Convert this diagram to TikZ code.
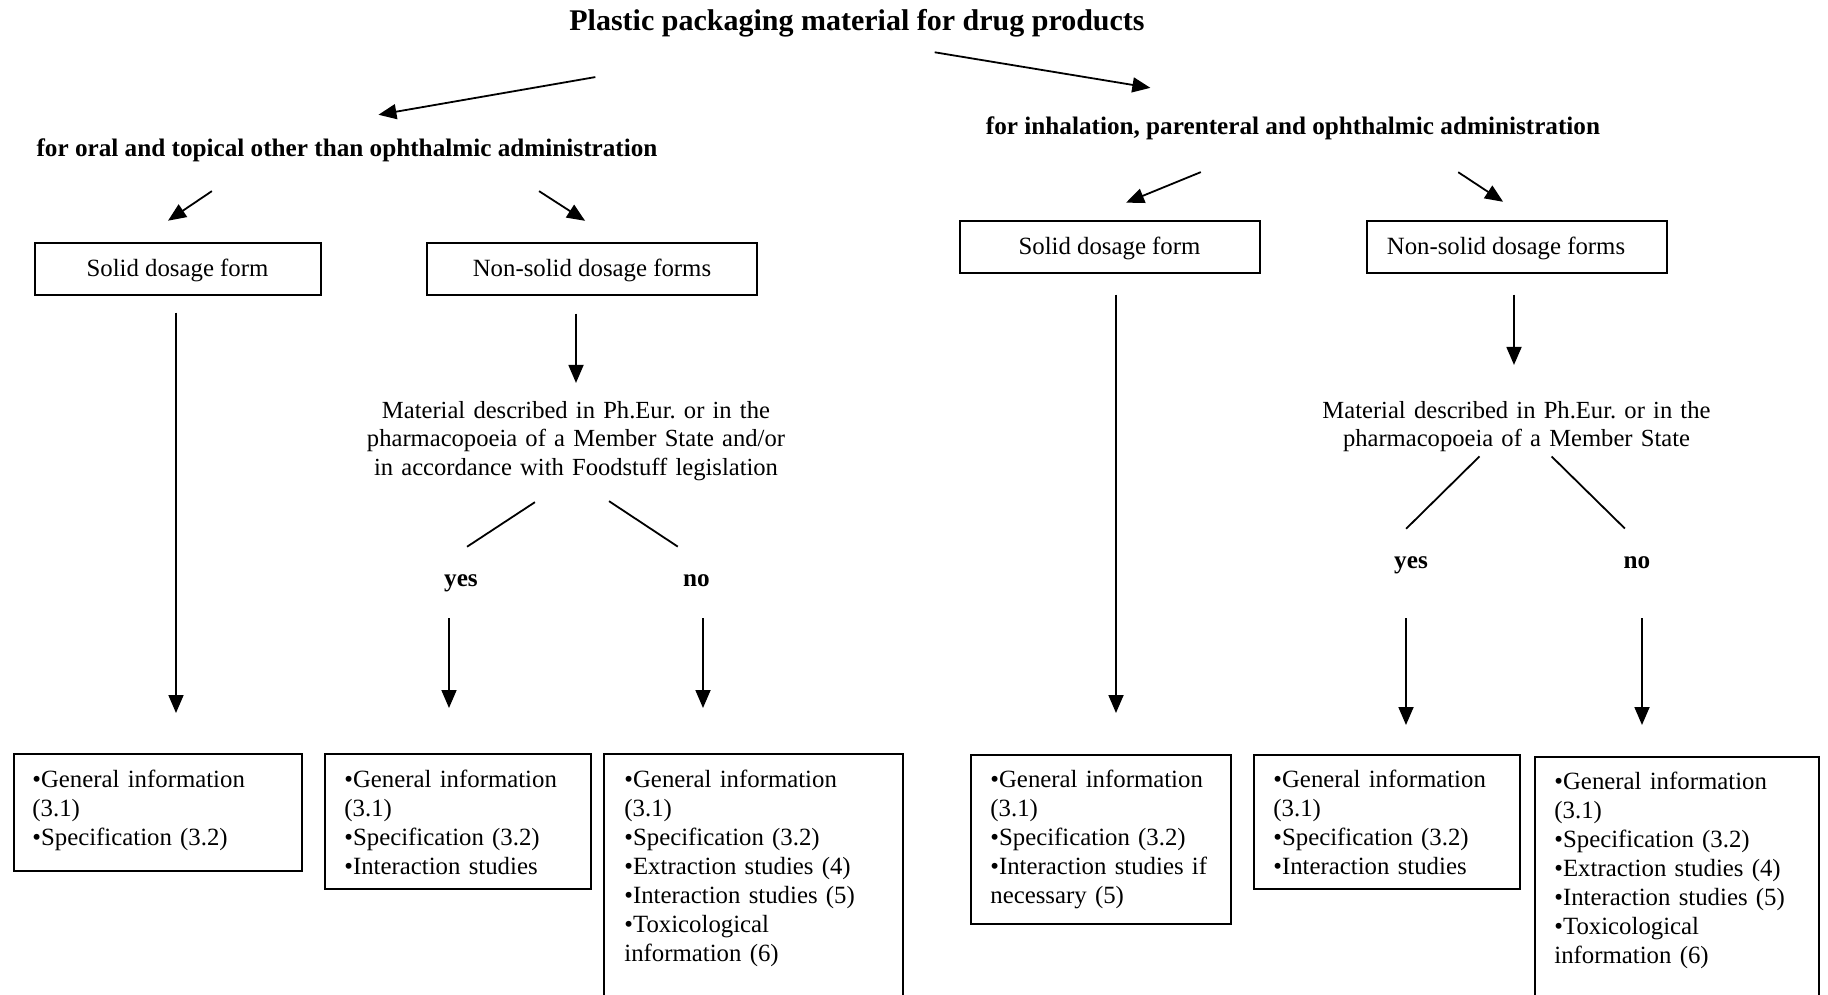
\documentclass[tikz,border=0pt]{standalone}
\usepackage{fontspec}
\setmainfont{Liberation Serif}
\usetikzlibrary{arrows.meta}
\frenchspacing
\newcommand\bodyfont{\fontsize{12.6}{14.5}\selectfont}
\newcommand\boxfont{\fontsize{12.4}{14.5}\selectfont}
\newcommand\titlefont{\fontsize{15}{18}\selectfont\bfseries}
\begin{document}
\begin{tikzpicture}[x=0.5pt,y=-0.5pt,
 ln/.style={line width=0.9pt},
 arr/.style={line width=0.9pt,-{Triangle[length=9pt,width=7.5pt]}},
 lbl/.style={inner sep=0pt,text height=9pt,text depth=3pt,font=\bodyfont\bfseries},
 ttl/.style={inner sep=0pt,text height=11pt,text depth=3.5pt,font=\titlefont},
 formbox/.style={draw,line width=1pt,inner sep=0pt,text height=10pt,text depth=2pt,font=\boxfont,minimum height=25.5pt},
 infobox/.style={draw,line width=1pt,inner sep=0pt,anchor=north west},
 infotext/.style={inner sep=0pt,text width=150pt,align=left,font=\boxfont,anchor=base west},
 mattext/.style={inner sep=0pt,text width=230pt,align=center,font=\fontsize{12.3}{14.4}\selectfont,anchor=base},
]
\useasboundingbox (0,0) rectangle (1828,995);
\clip (0,0) rectangle (1828,995);

% headings
\node[ttl,anchor=base] (title) at (857,31) {Plastic packaging material for drug products};
\node[lbl,anchor=base] (subL) at (347,156) {for oral and topical other than ophthalmic administration};
\node[lbl,anchor=base] (subR) at (1293,135) {for inhalation, parenteral and ophthalmic administration};

% dosage form boxes
\node[formbox,minimum width=143pt] (sl) at (177.5,269) {Solid dosage form};
\node[formbox,minimum width=165pt] (nsl) at (592,269) {Non-solid dosage forms};
\node[formbox,minimum width=150pt] (sr) at (1109.5,247) {Solid dosage form};
\node[formbox,minimum width=150pt] (nsr) at (1516.5,247) {\hspace*{-10.5pt}Non-solid dosage forms};

% material questions
\node[mattext] (matL) at (576,418) {Material described in Ph.Eur. or in the\\pharmacopoeia of a Member State and/or\\in accordance with Foodstuff legislation};
\node[mattext] (matR) at (1516.5,418) {Material described in Ph.Eur. or in the\\pharmacopoeia of a Member State};

% yes / no
\node[lbl,anchor=base] (yesL) at (461,586) {yes};
\node[lbl,anchor=base] (noL) at (696.5,586) {no};
\node[lbl,anchor=base] (yesR) at (1411,568) {yes};
\node[lbl,anchor=base] (noR) at (1637,568) {no};

% result boxes
\node[infobox,minimum width=144pt,minimum height=58.5pt] (b1) at (13,753) {};
\node[infobox,minimum width=133pt,minimum height=67.5pt] (b2) at (324,753) {};
\node[infobox,minimum width=149.5pt,minimum height=130pt] (b3) at (603,753) {};
\node[infobox,minimum width=130pt,minimum height=84.5pt] (b4) at (970,754) {};
\node[infobox,minimum width=133pt,minimum height=67pt] (b5) at (1253,754) {};
\node[infobox,minimum width=142pt,minimum height=127pt] (b6) at (1534,756) {};

\node[infotext] (t1) at ([shift={(19,34)}]b1.north west) {•General information\\(3.1)\\•Specification (3.2)};
\node[infotext] (t2) at ([shift={(20,34)}]b2.north west) {•General information\\(3.1)\\•Specification (3.2)\\•Interaction studies};
\node[infotext] (t3) at ([shift={(21,34)}]b3.north west) {•General information\\(3.1)\\•Specification (3.2)\\•Extraction studies (4)\\•Interaction studies (5)\\•Toxicological\\information (6)};
\node[infotext] (t4) at ([shift={(20,33.5)}]b4.north west) {•General information\\(3.1)\\•Specification (3.2)\\•Interaction studies if\\necessary (5)};
\node[infotext] (t5) at ([shift={(20,33.5)}]b5.north west) {•General information\\(3.1)\\•Specification (3.2)\\•Interaction studies};
\node[infotext] (t6) at ([shift={(20,33)}]b6.north west) {•General information\\(3.1)\\•Specification (3.2)\\•Extraction studies (4)\\•Interaction studies (5)\\•Toxicological\\information (6)};

% top arrows
\draw[arr,shorten <=113pt,shorten >=66.7pt] ([shift={(-39,0)}]title.south) -- ([shift={(-100,0)}]subL.north);
\draw[arr,shorten <=42.7pt,shorten >=88.5pt] ([shift={(-6.6,0)}]title.south) -- ([shift={(32,0)}]subR.north);

\draw[arr,shorten <=25.7pt,shorten >=19.5pt] ([shift={(-92.5,0)}]subL.south) -- ([shift={(-41.8,0)}]sl.north);
\draw[arr,shorten <=26.5pt,shorten >=20pt] ([shift={(147.5,0)}]subL.south) -- ([shift={(26.7,0)}]nsl.north);
\draw[arr,shorten <=40.6pt,shorten >=23.6pt] ([shift={(-17,0)}]subR.south) -- ([shift={(-27.1,0)}]sr.north);
\draw[arr,shorten <=28pt,shorten >=17pt] ([shift={(118.5,0)}]subR.south) -- ([shift={(15,0)}]nsr.north);

% vertical arrows
\draw[arr,shorten <=8.5pt,shorten >=20pt] ([shift={(-1.5,0)}]sl.south) -- ([shift={(-1.5,0)}]sl.south |- b1.north);
\draw[arr,shorten <=9pt,shorten >=8.8pt] ([shift={(-16,0)}]nsl.south) -- ([shift={(-16,0)}]nsl.south |- matL.north);
\draw[arr,shorten <=10.5pt,shorten >=20.5pt] ([shift={(6.5,0)}]sr.south) -- ([shift={(6.5,0)}]sr.south |- b4.north);
\draw[arr,shorten <=10.5pt,shorten >=17.8pt] ([shift={(-2.5,0)}]nsr.south) -- ([shift={(-2.5,0)}]nsr.south |- matR.north);

% diagonals
\draw[ln,shorten <=19pt,shorten >=19pt] ([shift={(-9.3,0)}]matL.south) -- ([shift={(-25.7,0)}]yesL.north);
\draw[ln,shorten <=18pt,shorten >=19pt] ([shift={(3,0)}]matL.south) -- ([shift={(13,0)}]noL.north);
\draw[ln,shorten <=2.8pt,shorten >=14.8pt] ([shift={(-33,0)}]matR.south) -- ([shift={(-26,0)}]yesR.north);
\draw[ln,shorten <=2.85pt,shorten >=15pt] ([shift={(31,0)}]matR.south) -- ([shift={(9.3,0)}]noR.north);

% yes/no arrows
\draw[arr,shorten <=13pt,shorten >=22.5pt] ([shift={(-12,0)}]yesL.south) -- ([shift={(-12,0)}]yesL.south |- b2.north);
\draw[arr,shorten <=13pt,shorten >=22.5pt] ([shift={(6.5,0)}]noL.south) -- ([shift={(6.5,0)}]noL.south |- b3.north);
\draw[arr,shorten <=22pt,shorten >=14.5pt] ([shift={(-5,0)}]yesR.south) -- ([shift={(-5,0)}]yesR.south |- b5.north);
\draw[arr,shorten <=22pt,shorten >=15.5pt] ([shift={(5,0)}]noR.south) -- ([shift={(5,0)}]noR.south |- b6.north);
\end{tikzpicture}
\end{document}
